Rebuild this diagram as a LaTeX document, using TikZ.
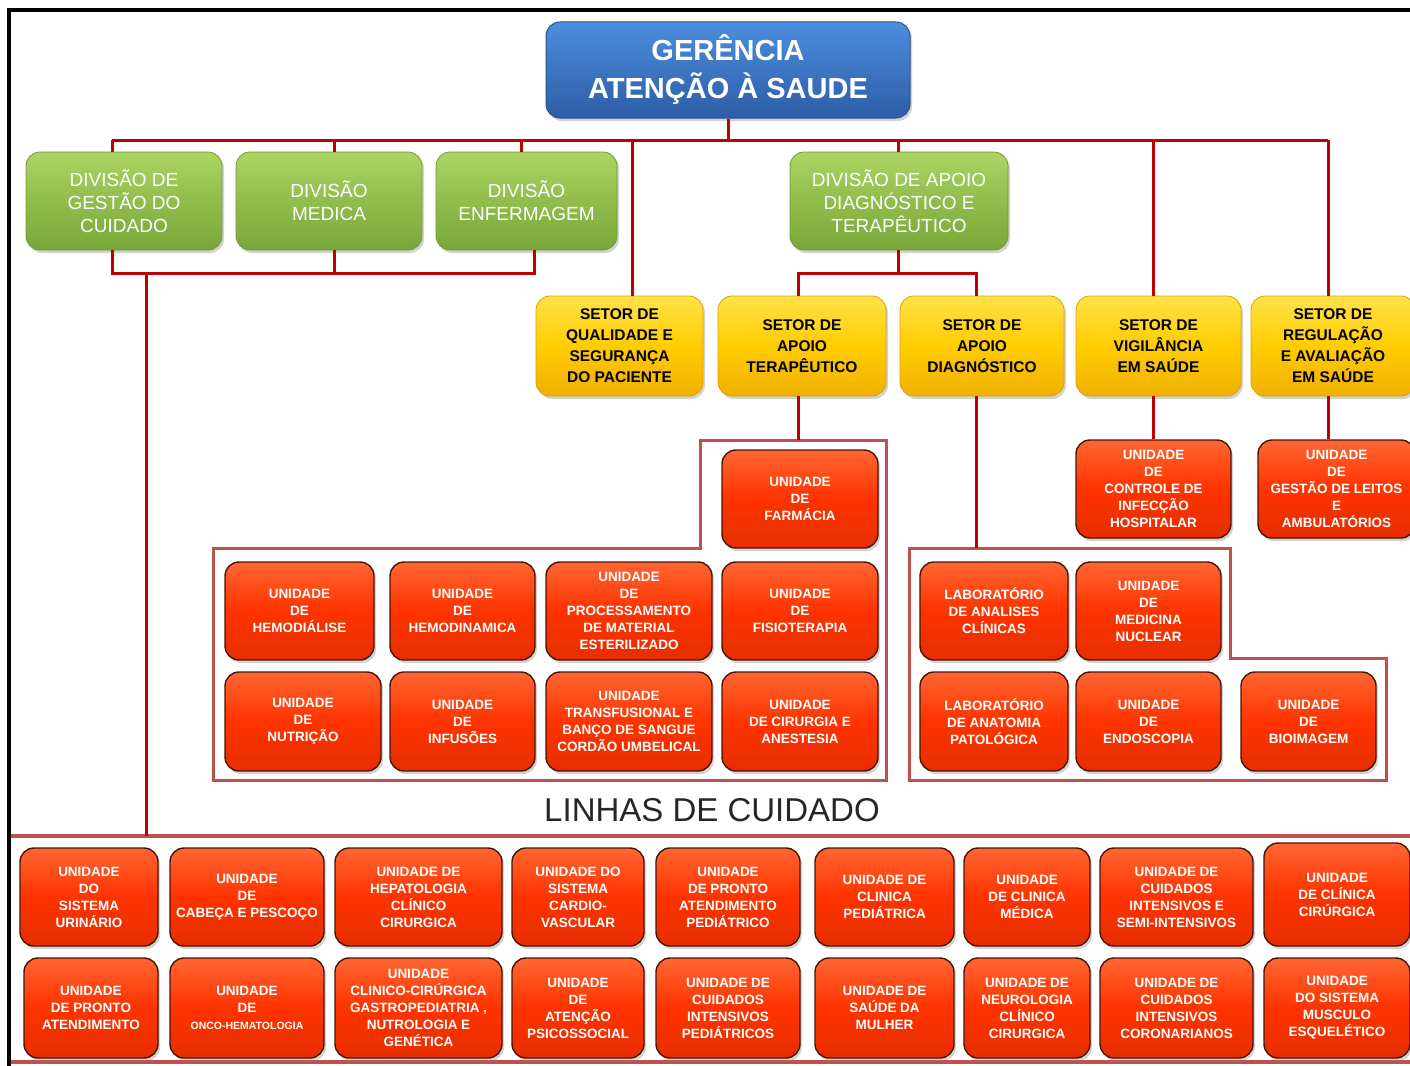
\documentclass[tikz,border=0pt]{standalone}
\usepackage{fontspec}
\setmainfont{Liberation Sans}
\usetikzlibrary{shadows}
\definecolor{connred}{HTML}{C00000}
\definecolor{frmred}{HTML}{C0504D}
\definecolor{unittop}{HTML}{FF6633}
\definecolor{unitmid}{HTML}{FF3300}
\definecolor{unitbot}{HTML}{E62E00}
\definecolor{unitedge}{HTML}{4A1405}
\definecolor{yeltop}{HTML}{FFE24A}
\definecolor{yelmid}{HTML}{FFCC00}
\definecolor{yelbot}{HTML}{F0B000}
\definecolor{yeledge}{HTML}{D9A400}
\definecolor{grntop}{HTML}{ABD463}
\definecolor{grnbot}{HTML}{78A638}
\definecolor{grnedge}{HTML}{6E9A33}
\definecolor{blutop}{HTML}{4C8EDD}
\definecolor{blubot}{HTML}{2D5DA6}
\definecolor{bluedge}{HTML}{2A5290}
\begin{document}
\begin{tikzpicture}[x=1pt,y=-1pt,
  conn/.style={draw=connred, line width=3pt},
  grpframe/.style={draw=frmred, line width=3pt},
  box/.style={rectangle, rounded corners=14pt, align=center, inner sep=1pt,
    drop shadow={opacity=0.35, shadow xshift=2pt, shadow yshift=-3pt}},
  unit/.style={box, draw=unitedge, line width=1.4pt, top color=unittop, bottom color=unitbot, middle color=unitmid,
    text=white, font=\bfseries\fontsize{13.5}{17}\selectfont},
  setor/.style={box, draw=yeledge, line width=0.8pt, top color=yeltop, bottom color=yelbot, middle color=yelmid,
    text=black, font=\bfseries\fontsize{15.5}{21}\selectfont, minimum height=100pt},
  divisao/.style={box, draw=grnedge, line width=0.8pt, top color=grntop, bottom color=grnbot,
    text=white, font=\fontsize{19}{23}\selectfont, minimum height=98pt},
  gerencia/.style={box, draw=bluedge, line width=1pt, top color=blutop, bottom color=blubot,
    text=white, font=\bfseries\fontsize{29}{38}\selectfont},
]
\useasboundingbox (0,0) rectangle (1410,1065);
\fill[white] (0,0) rectangle (1410,1065);

% outer black frame
\draw[line width=4pt, black] (9,1066) -- (9,10) -- (1415,10);

% bottom region frame
\draw[grpframe, line width=4pt] (11,836) -- (1415,836);
\draw[grpframe, line width=4pt] (11,1062) -- (1415,1062);

% group frames
\draw[grpframe] (700,440) -- (886,440) -- (886,780) -- (213,780) -- (213,548) -- (700,548) -- cycle;
\draw[grpframe] (909,548) -- (1230,548) -- (1230,658) -- (1386,658) -- (1386,780) -- (909,780) -- cycle;

% ---------- nodes ----------
\node[gerencia, minimum width=364pt, minimum height=96pt] (ger) at (728,70) {GERÊNCIA\\ATENÇÃO À SAUDE};

\node[divisao, minimum width=196pt] (g1) at (124,201) {DIVISÃO DE\\GESTÃO DO\\CUIDADO};
\node[divisao, minimum width=186pt] (g2) at (329,201) {DIVISÃO\\MEDICA};
\node[divisao, minimum width=181pt] (g3) at (526.5,201) {DIVISÃO\\ENFERMAGEM};
\node[divisao, minimum width=218pt] (g4) at (899,201) {DIVISÃO DE APOIO\\DIAGNÓSTICO E\\TERAPÊUTICO};

\node[setor, minimum width=167pt] (y1) at (619.5,346) {SETOR DE\\QUALIDADE E\\SEGURANÇA\\DO PACIENTE};
\node[setor, minimum width=168pt] (y2) at (802,346) {SETOR DE\\APOIO\\TERAPÊUTICO};
\node[setor, minimum width=164pt] (y3) at (982,346) {SETOR DE\\APOIO\\DIAGNÓSTICO};
\node[setor, minimum width=165pt] (y4) at (1158.5,346) {SETOR DE\\VIGILÂNCIA\\EM SAÚDE};
\node[setor, minimum width=164pt] (y5) at (1333,346) {SETOR DE\\REGULAÇÃO\\E AVALIAÇÃO\\EM SAÚDE};

% apoio terapeutico units
\node[unit, minimum width=156pt, minimum height=98pt] (farm) at (800,499) {UNIDADE\\DE\\FARMÁCIA};
\node[unit, minimum width=149pt, minimum height=98pt] (hdl) at (299.5,611) {UNIDADE\\DE\\HEMODIÁLISE};
\node[unit, minimum width=145pt, minimum height=98pt] (hdn) at (462.5,611) {UNIDADE\\DE\\HEMODINAMICA};
\node[unit, minimum width=166pt, minimum height=98pt] (proc) at (629,611) {UNIDADE\\DE\\PROCESSAMENTO\\DE MATERIAL\\ESTERILIZADO};
\node[unit, minimum width=156pt, minimum height=98pt] (fisio) at (800,611) {UNIDADE\\DE\\FISIOTERAPIA};
\node[unit, minimum width=156pt, minimum height=99pt] (nutr) at (303,721.5) {UNIDADE\\DE\\NUTRIÇÃO};
\node[unit, minimum width=145pt, minimum height=99pt] (inf) at (462.5,721.5) {UNIDADE\\DE\\INFUSÕES};
\node[unit, minimum width=166pt, minimum height=99pt] (transf) at (629,721.5) {UNIDADE\\TRANSFUSIONAL E\\BANÇO DE SANGUE\\CORDÃO UMBELICAL};
\node[unit, minimum width=156pt, minimum height=99pt] (cir) at (800,721.5) {UNIDADE\\DE CIRURGIA E\\ANESTESIA};

% apoio diagnostico units
\node[unit, minimum width=148pt, minimum height=98pt] (lab1) at (994,611) {LABORATÓRIO\\DE ANALISES\\CLÍNICAS};
\node[unit, minimum width=145pt, minimum height=98pt] (med) at (1148.5,611) {UNIDADE\\DE\\MEDICINA\\NUCLEAR};
\node[unit, minimum width=148pt, minimum height=99pt] (lab2) at (994,721.5) {LABORATÓRIO\\DE ANATOMIA\\PATOLÓGICA};
\node[unit, minimum width=145pt, minimum height=99pt] (endo) at (1148.5,721.5) {UNIDADE\\DE\\ENDOSCOPIA};
\node[unit, minimum width=135pt, minimum height=99pt] (bio) at (1308.5,721.5) {UNIDADE\\DE\\BIOIMAGEM};

% vigilancia / regulacao units
\node[unit, minimum width=155pt, minimum height=98pt] (ctrl) at (1153.5,489) {UNIDADE\\DE\\CONTROLE DE\\INFECÇÃO\\HOSPITALAR};
\node[unit, minimum width=157pt, minimum height=98pt] (leitos) at (1336.5,489) {UNIDADE\\DE\\GESTÃO DE LEITOS\\E\\AMBULATÓRIOS};

\node[font=\fontsize{33}{38}\selectfont, text=black!85] (linhas) at (712,810) {LINHAS DE CUIDADO};

% bottom rows
\node[unit, minimum width=138pt, minimum height=98pt] (a1) at (89,897) {UNIDADE\\DO\\SISTEMA\\URINÁRIO};
\node[unit, minimum width=154pt, minimum height=98pt] (a2) at (247,897) {UNIDADE\\DE\\CABEÇA E PESCOÇO};
\node[unit, minimum width=167pt, minimum height=98pt] (a3) at (418.5,897) {UNIDADE DE\\HEPATOLOGIA\\CLÍNICO\\CIRURGICA};
\node[unit, minimum width=132pt, minimum height=98pt] (a4) at (578,897) {UNIDADE DO\\SISTEMA\\CARDIO-\\VASCULAR};
\node[unit, minimum width=144pt, minimum height=98pt] (a5) at (728,897) {UNIDADE\\DE PRONTO\\ATENDIMENTO\\PEDIÁTRICO};
\node[unit, minimum width=139pt, minimum height=98pt] (a6) at (884.5,897) {UNIDADE DE\\CLINICA\\PEDIÁTRICA};
\node[unit, minimum width=126pt, minimum height=98pt] (a7) at (1027,897) {UNIDADE\\DE CLINICA\\MÉDICA};
\node[unit, minimum width=153pt, minimum height=98pt] (a8) at (1176.5,897) {UNIDADE DE\\CUIDADOS\\INTENSIVOS E\\SEMI-INTENSIVOS};
\node[unit, minimum width=146pt, minimum height=103pt] (a9) at (1337,894.5) {UNIDADE\\DE CLÍNICA\\CIRÚRGICA};

\node[unit, minimum width=134pt, minimum height=100pt] (b1) at (91,1008) {UNIDADE\\DE PRONTO\\ATENDIMENTO};
\node[unit, minimum width=154pt, minimum height=100pt] (b2) at (247,1008) {UNIDADE\\DE\\{\fontsize{10.5}{17}\selectfont ONCO-HEMATOLOGIA}};
\node[unit, minimum width=167pt, minimum height=100pt] (b3) at (418.5,1008) {UNIDADE\\CLINICO-CIRÚRGICA\\GASTROPEDIATRIA ,\\NUTROLOGIA E\\GENÉTICA};
\node[unit, minimum width=132pt, minimum height=100pt] (b4) at (578,1008) {UNIDADE\\DE\\ATENÇÃO\\PSICOSSOCIAL};
\node[unit, minimum width=144pt, minimum height=100pt] (b5) at (728,1008) {UNIDADE DE\\CUIDADOS\\INTENSIVOS\\PEDIÁTRICOS};
\node[unit, minimum width=139pt, minimum height=100pt] (b6) at (884.5,1008) {UNIDADE DE\\SAÚDE DA\\MULHER};
\node[unit, minimum width=126pt, minimum height=100pt] (b7) at (1027,1008) {UNIDADE DE\\NEUROLOGIA\\CLÍNICO\\CIRURGICA};
\node[unit, minimum width=153pt, minimum height=100pt] (b8) at (1176.5,1008) {UNIDADE DE\\CUIDADOS\\INTENSIVOS\\CORONARIANOS};
\node[unit, minimum width=146pt, minimum height=100pt] (b9) at (1337,1008) {UNIDADE\\DO SISTEMA\\MUSCULO\\ESQUELÉTICO};

% ---------- connectors ----------
\coordinate (busL) at (112,140);
\coordinate (busR) at (1328,140);
\draw[conn] (busL) -- (busR);
\draw[conn] (ger.south) -- (ger.south |- busL);
\draw[conn] (busL) -- (busL |- g1.north);
\draw[conn] ([xshift=5pt]g2.north) -- ([xshift=5pt]g2.north |- busL);
\draw[conn] ([xshift=-5.5pt]g3.north) -- ([xshift=-5.5pt]g3.north |- busL);
\draw[conn] ([xshift=12.5pt]y1.north) -- ([xshift=12.5pt]y1.north |- busL);
\draw[conn] ([xshift=-1pt]g4.north) -- ([xshift=-1pt]g4.north |- busL);
\draw[conn] ([xshift=-5.5pt]y4.north) -- ([xshift=-5.5pt]y4.north |- busL);
\draw[conn] ([xshift=-5pt]y5.north) -- (busR);

% lower bus of the three divisions
\draw[conn] ([xshift=-12pt]g1.south) -- ++(0,23) -| ([xshift=7.5pt]g3.south);
\draw[conn] ([xshift=5pt]g2.south) -- ++(0,23);
\coordinate (lcTop) at (146,273);
\coordinate (lcBot) at (146,836);
\draw[conn] (lcTop) -- (lcBot);

% apoio diagnostico e terapeutico bus
\draw[conn] ([xshift=-1pt]g4.south) -- ++(0,24);
\draw[conn] ([xshift=-4pt]y2.north) -- ++(0,-22) -| ([xshift=-6pt]y3.north);
\coordinate (terTop) at (798,440);
\coordinate (diaTop) at (976,548);
\draw[conn] ([xshift=-4pt]y2.south) -- (terTop);
\draw[conn] ([xshift=-6pt]y3.south) -- (diaTop);
\draw[conn] ([xshift=-5.5pt]y4.south) -- ([xshift=-5.5pt]y4.south |- ctrl.north);
\draw[conn] ([xshift=-5pt]y5.south) -- ([xshift=-5pt]y5.south |- leitos.north);
\end{tikzpicture}
\end{document}
